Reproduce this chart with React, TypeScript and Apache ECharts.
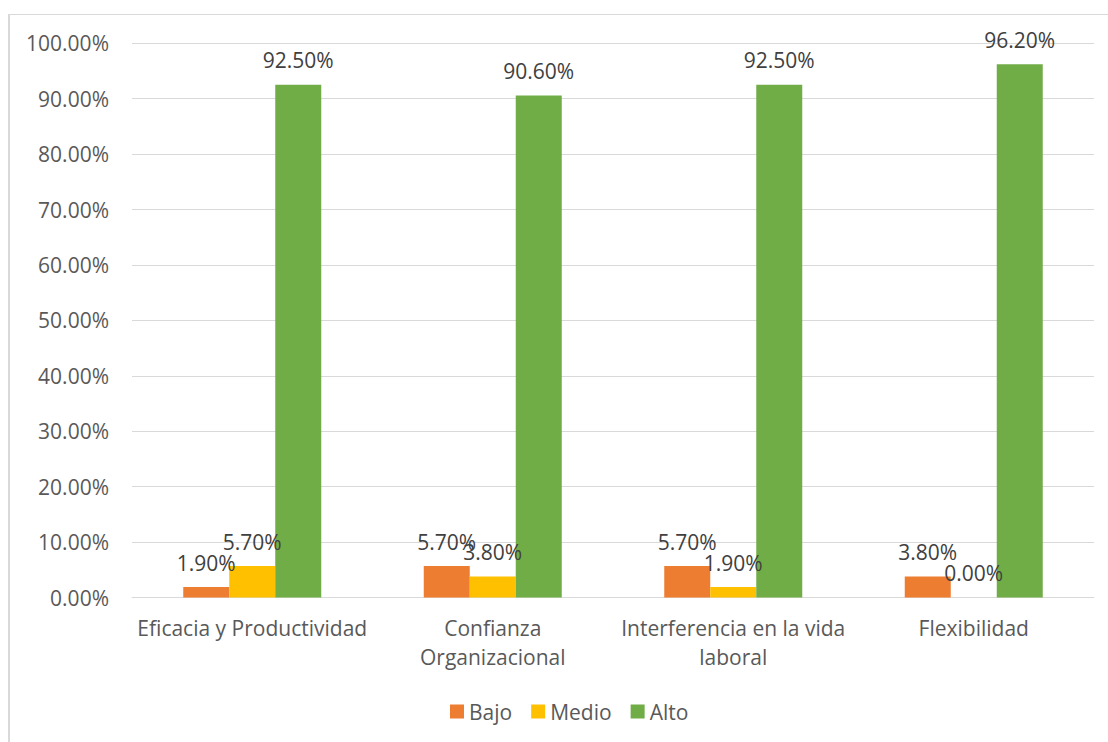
import React, { useEffect, useRef } from "react";
import * as echarts from "echarts";

const categories = [
  "Eficacia y Productividad",
  "Confianza\nOrganizacional",
  "Interferencia en la vida\nlaboral",
  "Flexibilidad",
];
const seriesNames = ["Bajo", "Medio", "Alto"];
const bajo = [1.9, 5.7, 5.7, 3.8];
const medio = [5.7, 3.8, 1.9, 0.0];
const alto = [92.5, 90.6, 92.5, 96.2];
const colors = ["#ED7D31", "#FFC000", "#70AD47"];

const FONT = "'Open Sans', 'Noto Sans', sans-serif";

export default function App() {
  const ref = useRef<HTMLDivElement>(null);
  useEffect(() => {
    if (!ref.current) return;
    const chart = echarts.init(ref.current, null, { renderer: "svg" });
    const values = [bajo, medio, alto];
    chart.setOption({
      animation: false,
      textStyle: { fontFamily: FONT },
      grid: { left: 132, right: 14, top: 43.3, bottom: 144.4, containLabel: false },
      legend: {
        data: seriesNames,
        left: 450,
        top: 701,
        icon: "rect",
        itemWidth: 14,
        itemHeight: 14,
        itemGap: 19,
        padding: 0,
        textStyle: { fontSize: 21, color: "#595959", fontFamily: FONT },
      },
      xAxis: {
        type: "category",
        data: categories,
        axisLine: { lineStyle: { color: "#d9d9d9", width: 1 } },
        axisTick: { show: false },
        axisLabel: {
          color: "#595959",
          fontSize: 21,
          lineHeight: 29,
          margin: 16,
          fontFamily: FONT,
          interval: 0,
        },
      },
      yAxis: {
        type: "value",
        min: 0,
        max: 100,
        interval: 10,
        axisLine: { show: false },
        axisTick: { show: false },
        splitLine: { lineStyle: { color: "#d9d9d9", width: 1 } },
        axisLabel: {
          color: "#595959",
          fontSize: 21,
          margin: 23,
          fontFamily: FONT,
          formatter: (v: number) => v.toFixed(2) + "%",
        },
      },
      series: seriesNames.map((name, i) => ({
        name,
        type: "bar",
        data: values[i],
        barWidth: 46,
        barGap: "0%",
        itemStyle: { color: colors[i] },
        label: {
          show: true,
          position: "top",
          distance: 14,
          fontSize: 21,
          lineHeight: 21,
          color: "#404040",
          fontFamily: FONT,
          formatter: (p: any) => Number(p.value).toFixed(2) + "%",
        },
      })),
    });
    return () => chart.dispose();
  }, []);
  return (
    <>
      <div
        style={{
          position: "fixed",
          left: 8,
          top: 14,
          width: 1300,
          height: 900,
          borderTop: "1px solid #d9d9d9",
          borderLeft: "2px solid #d9d9d9",
          boxSizing: "border-box",
          background: "#fff",
        }}
      />
      <div
        ref={ref}
        style={{ position: "fixed", left: 0, top: 0, width: 1108, height: 742 }}
      />
    </>
  );
}
